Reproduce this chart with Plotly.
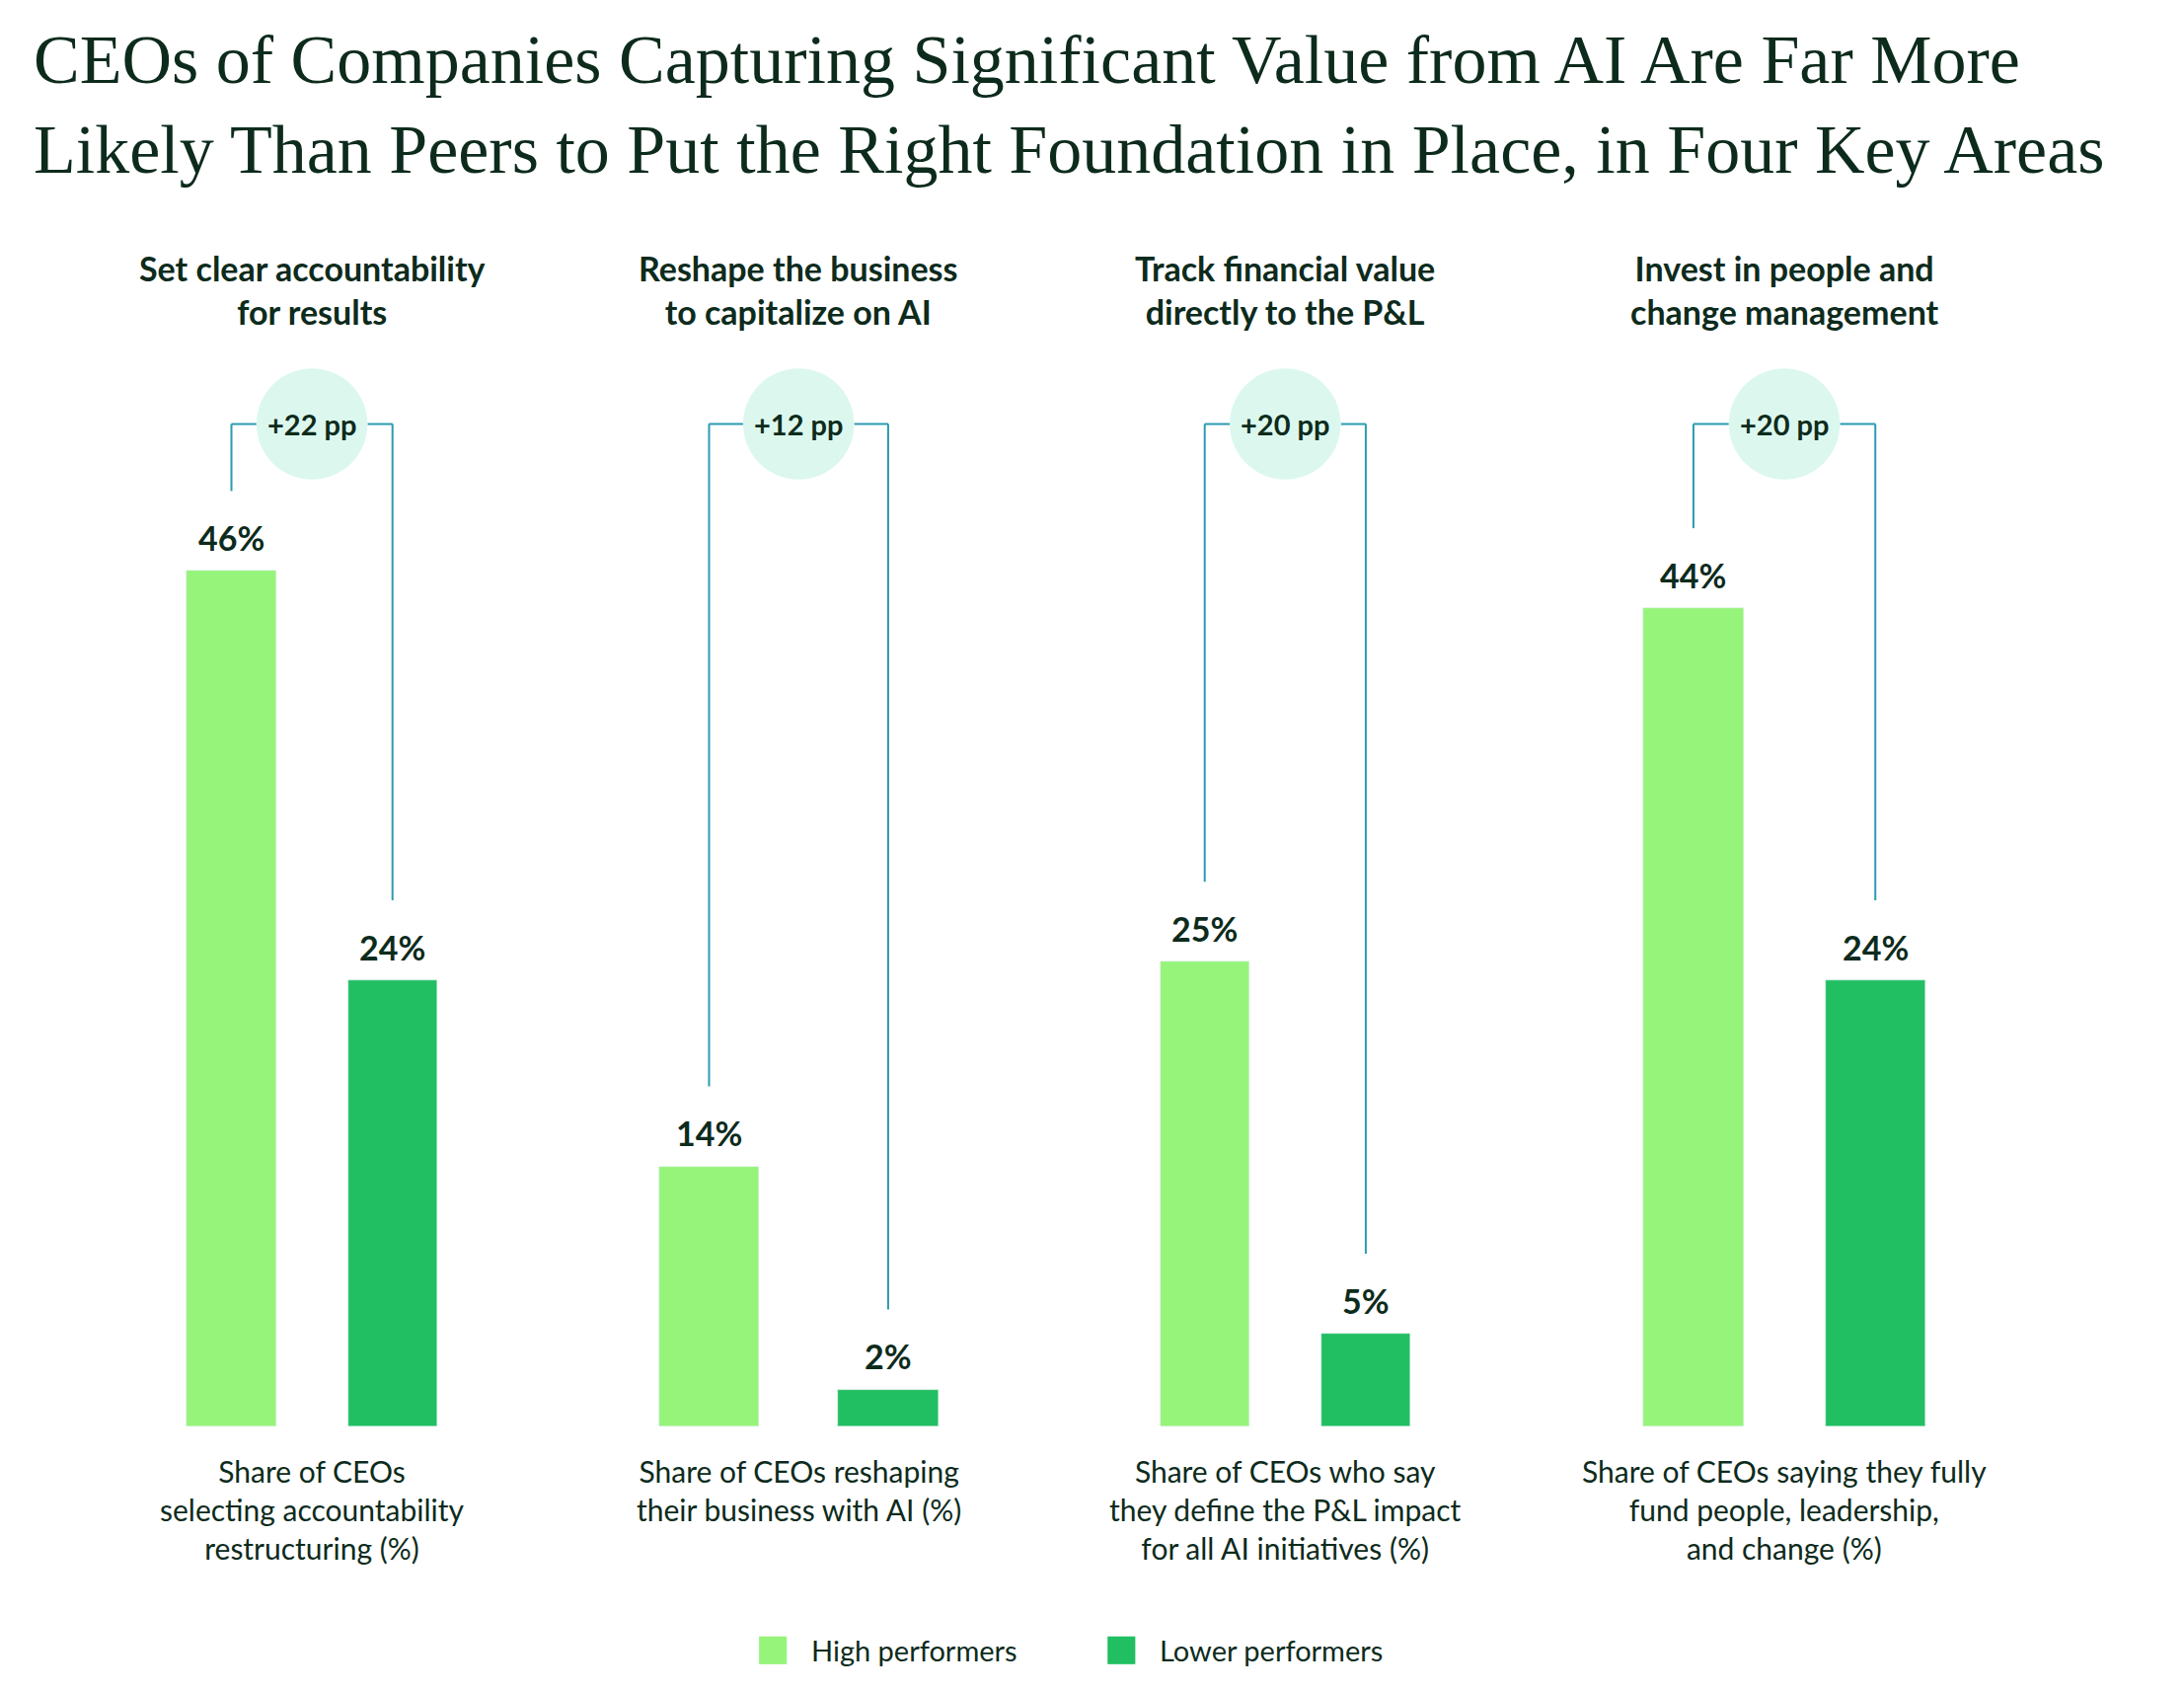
import plotly.graph_objects as go

# data
panel_titles = ["Set clear accountability<br>for results",
                "Reshape the business<br>to capitalize on AI",
                "Track financial value<br>directly to the P&L",
                "Invest in people and<br>change management"]
captions = ["Share of CEOs<br>selecting accountability<br>restructuring (%)",
            "Share of CEOs reshaping<br>their business with AI (%)",
            "Share of CEOs who say<br>they define the P&L impact<br>for all AI initiatives (%)",
            "Share of CEOs saying they fully<br>fund people, leadership,<br>and change (%)"]
high = [46, 14, 25, 44]
low = [24, 2, 5, 24]
gaps = ["+22 pp", "+12 pp", "+20 pp", "+20 pp"]
series_names = ["High performers", "Lower performers"]

# layout helpers (x in reference pixel units, y in % units)
x_high = [161, 505, 862, 1214]
x_low = [277, 634, 978, 1345]
widths = [64, 72, 64, 72]
W_REF, H_REF = 1573, 1218
PX = 13.4            # px per % point
Y_TOP, Y_BOT = 1022 / PX, -(H_REF - 1022) / PX
CIRC_Y = 53.9

DARK = "#0d2b1c"
HIGH_C = "#96f47a"
LOW_C = "#21bf61"
LINE_C = "#2a9bb0"
FONT = "Lato"

fig = go.Figure()
fig.add_bar(x=x_high, y=high, width=widths, marker_color=HIGH_C, name=series_names[0])
fig.add_bar(x=x_low, y=low, width=widths, marker_color=LOW_C, name=series_names[1])

shapes, ann = [], []
for i in range(4):
    xc = (x_high[i] + x_low[i]) / 2
    r = 40
    for xv, v in ((x_high[i], high[i]), (x_low[i], low[i])):
        ann.append(dict(x=xv, y=v + 0.6, text=f"<b>{v}%</b>", showarrow=False, yanchor="bottom",
                        font=dict(size=34, color=DARK, family=FONT)))
        edge = xc - r if xv < xc else xc + r
        shapes.append(dict(type="line", x0=xv, x1=xv, y0=v + 4.3, y1=CIRC_Y,
                           line=dict(color=LINE_C, width=2)))
        shapes.append(dict(type="line", x0=xv, x1=edge, y0=CIRC_Y, y1=CIRC_Y,
                           line=dict(color=LINE_C, width=2)))
    shapes.append(dict(type="circle", x0=xc - r, x1=xc + r, y0=CIRC_Y - r / PX, y1=CIRC_Y + r / PX,
                       fillcolor="#dcf8ee", line=dict(width=0)))
    ann.append(dict(x=xc, y=CIRC_Y, text=f"<b>{gaps[i]}</b>", showarrow=False,
                    font=dict(size=29, color=DARK, family=FONT)))
    ann.append(dict(x=xc, y=61.1, text=f"<b>{panel_titles[i]}</b>", showarrow=False,
                    font=dict(size=34, color=DARK, family=FONT)))
    ann.append(dict(x=xc, y=-1.3, text=captions[i], showarrow=False, yanchor="top",
                    font=dict(size=30, color=DARK, family=FONT)))

# legend drawn by hand (large square swatches)
LEG_Y = -(1183 - 1022) / PX
for xs, name, col in ((551, series_names[0], HIGH_C), (802, series_names[1], LOW_C)):
    shapes.append(dict(type="rect", x0=xs - 10, x1=xs + 10, y0=LEG_Y - 10 / PX, y1=LEG_Y + 10 / PX,
                       fillcolor=col, line=dict(width=0)))
    ann.append(dict(x=xs + 26, y=LEG_Y, text=name, showarrow=False, xanchor="left",
                    font=dict(size=29, color=DARK, family=FONT)))

ann.append(dict(xref="paper", yref="paper", x=0.011, y=0.993, xanchor="left", yanchor="top",
                align="left", showarrow=False,
                text="CEOs of Companies Capturing Significant Value from AI Are Far More<br>"
                     "Likely Than Peers to Put the Right Foundation in Place, in Four Key Areas",
                font=dict(size=70, color=DARK, family="Liberation Serif")))

fig.update_layout(
    width=2213, height=1713, margin=dict(l=0, r=0, t=0, b=0),
    plot_bgcolor="white", paper_bgcolor="white",
    shapes=shapes, annotations=ann, bargap=0, showlegend=False,
    xaxis=dict(range=[0, W_REF], visible=False, fixedrange=True),
    yaxis=dict(range=[Y_BOT, Y_TOP], visible=False),
)
fig.update_traces(hoverinfo="skip")

fig.write_html("out.html")
